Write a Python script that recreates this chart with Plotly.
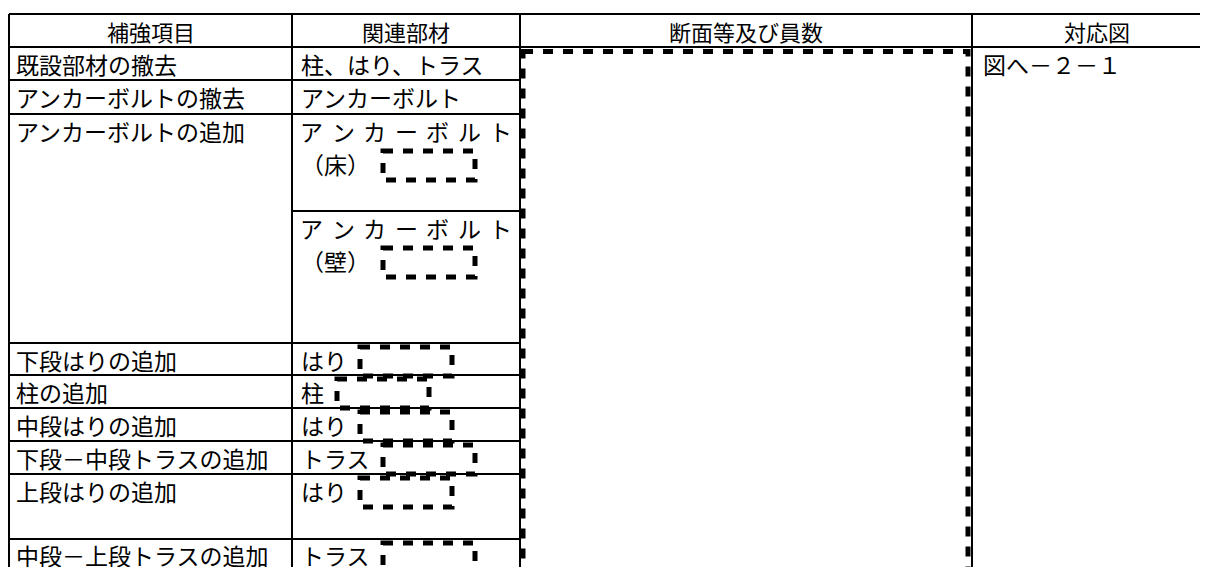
import plotly.graph_objects as go

W, H = 1208, 567
OFF = 8  # page body margin compensation

# ---------------- data (text content) ----------------
headers = ["補強項目", "関連部材", "断面等及び員数", "対応図"]
items = ["既設部材の撤去", "アンカーボルトの撤去", "アンカーボルトの追加",
         "下段はりの追加", "柱の追加", "中段はりの追加",
         "下段－中段トラスの追加", "上段はりの追加", "中段－上段トラスの追加"]
members_line1 = ["柱、はり、トラス", "アンカーボルト", "アンカーボルト", "アンカーボルト",
                 "はり", "柱", "はり", "トラス", "はり", "トラス"]
members_line2 = ["", "", "（床）", "（壁）", "", "", "", "", "", ""]
members_spread = [False, False, True, True, False, False, False, False, False, False]
members_box = [False, False, True, True, True, True, True, True, True, True]
figure_ref = "図へ－２－１"

# ---------------- layout of the table ----------------
col_x = [9, 292, 520, 972, 1222]
header_y = [14, 47]
member_rows = [47, 80, 114, 211, 343, 375, 408, 441, 474, 539, 620]
item_rows = [47, 80, 114, 343, 375, 408, 441, 474, 539, 620]

FONT = "Noto Sans CJK JP"
FS = 23
LINE = 33
PAD_X = 6
CHAR_W = 23

shapes = []
ann = []

def hline(y, x0, x1, w=2):
    shapes.append(dict(type="line", x0=x0, x1=x1, y0=y, y1=y,
                       line=dict(color="black", width=w)))

def vline(x, y0, y1, w=2):
    shapes.append(dict(type="line", x0=x, x1=x, y0=y0, y1=y1,
                       line=dict(color="black", width=w)))

def text(x, y, s, xanchor="left", size=FS):
    ann.append(dict(x=x, y=y, text=s, showarrow=False, xanchor=xanchor, yanchor="middle",
                    xref="x", yref="y", borderpad=0,
                    font=dict(family=FONT, size=size, color="black")))

def dbox(x0, y0, x1, y1):
    shapes.append(dict(type="rect", x0=x0, x1=x1, y0=y0, y1=y1,
                       line=dict(color="black", width=5, dash="10px,10px"),
                       fillcolor="rgba(0,0,0,0)"))

def line_center(top, k):
    return top + LINE / 2 + LINE * k

# grid lines
hline(header_y[0], col_x[0], col_x[-1])
hline(header_y[1], col_x[0], col_x[-1])
for y in item_rows[1:-1]:
    hline(y, col_x[0], col_x[1])
for y in member_rows[1:-1]:
    hline(y, col_x[1], col_x[2])
for x in col_x[:-1]:
    vline(x, header_y[0], item_rows[-1])

# headers
for i, h in enumerate(headers):
    text((col_x[i] + col_x[i + 1]) / 2, (header_y[0] + header_y[1]) / 2, h,
         xanchor="center", size=22)

# items column
for i, s in enumerate(items):
    text(col_x[0] + PAD_X, line_center(item_rows[i], 0) - (1 if i == len(items) - 1 else 0), s)

# members column
for i, s in enumerate(members_line1):
    top = member_rows[i]
    if members_spread[i]:
        n = len(s)
        x_start = col_x[1] + 8 + CHAR_W / 2
        x_end = col_x[2] - 8 - CHAR_W / 2
        for k, ch in enumerate(s):
            text(x_start + (x_end - x_start) * k / (n - 1), line_center(top, 0), ch,
                 xanchor="center")
        label = members_line2[i]
        line_idx = 1
        text(col_x[1] + 8, line_center(top, 1), label)
    else:
        label = s
        line_idx = 0
        text(col_x[1] + 8, line_center(top, 0) - (1 if i == len(members_line1) - 1 else 0), s)
    if members_box[i]:
        bx0 = col_x[1] + 8 + CHAR_W * len(label) + 14
        by0 = top + 4 + LINE * line_idx
        dbox(bx0, by0, bx0 + 92, by0 + 29)

# big placeholder box in the section column
dbox(col_x[2] + 3, header_y[1] + 4.5, col_x[3] - 4, item_rows[-1])

# figure reference
text(col_x[3] + 10, line_center(header_y[1], 0), figure_ref)

fig = go.Figure()
fig.add_trace(go.Scatter(x=[], y=[], mode="markers", showlegend=False))
fig.update_layout(
    width=W, height=H,
    margin=dict(l=0, r=0, t=0, b=0),
    paper_bgcolor="white", plot_bgcolor="white",
    xaxis=dict(range=[OFF, W + OFF], visible=False, fixedrange=True),
    yaxis=dict(range=[H + OFF, OFF], visible=False, fixedrange=True),
    shapes=shapes, annotations=ann, showlegend=False,
)
fig.write_html("out.html", config={"displayModeBar": False})
